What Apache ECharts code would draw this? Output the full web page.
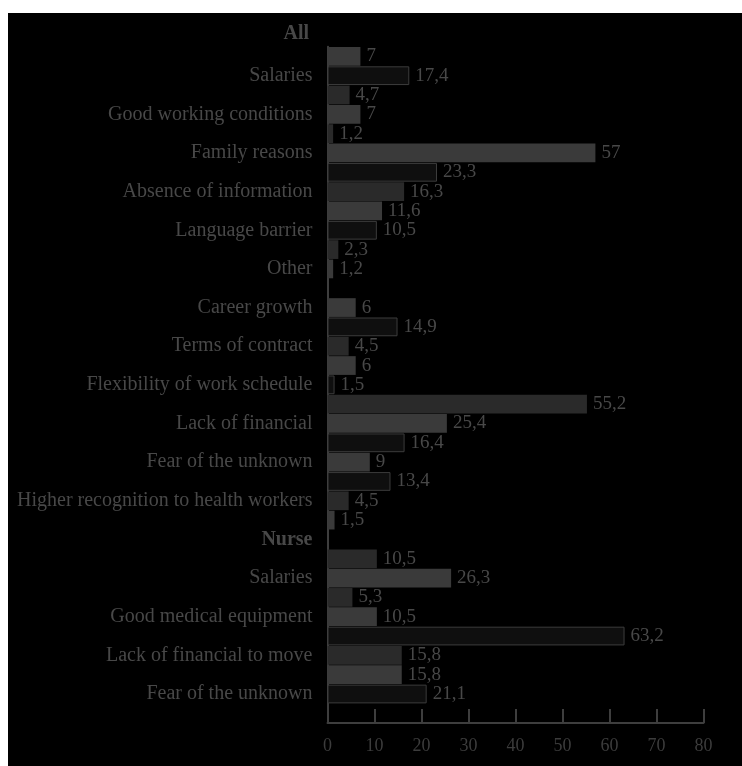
<!DOCTYPE html>
<html>
<head>
<meta charset="utf-8">
<script src="https://cdn.jsdelivr.net/npm/echarts@6/dist/echarts.min.js"></script>
<style>
  html, body { margin: 0; padding: 0; background: #ffffff; width: 742px; height: 766px; overflow: hidden; }
  #chart { position: absolute; left: 8px; top: 13px; width: 734px; height: 753px; background: #000; }
</style>
</head>
<body>
<div id="chart"></div>
<script>
// Row labels (one row per bar; empty string = unlabeled row)
const categories = ['', 'Salaries', '', 'Good working conditions', '', 'Family reasons', '', 'Absence of information', '', 'Language barrier', '', 'Other', '', 'Career growth', '', 'Terms of contract', '', 'Flexibility of work schedule', '', 'Lack of financial', '', 'Fear of the unknown', '', 'Higher recognition to health workers', '', 'Nurse', '', 'Salaries', '', 'Good medical equipment', '', 'Lack of financial to move', '', 'Fear of the unknown', ''];
const headerLabels = ['Nurse'];
const topHeader = 'All';

// Values by row (null = no bar in that series)
const lightValues = [7, null, null, 7, null, 57, null, null, 11.6, null, null, 1.2, null, 6, null, null, 6, null, null, 25.4, null, 9, null, null, 1.5, null, null, 26.3, null, 10.5, null, null, 15.8, null, null];
const blackValues = [null, 17.4, null, null, null, null, 23.3, null, null, 10.5, null, null, null, null, 14.9, null, null, 1.5, null, null, 16.4, null, 13.4, null, null, null, null, null, null, null, 63.2, null, null, 21.1, null];
const midValues = [null, null, 4.7, null, 1.2, null, null, 16.3, null, null, 2.3, null, null, null, null, 4.5, null, null, 55.2, null, null, null, null, 4.5, null, null, 10.5, null, 5.3, null, null, 15.8, null, null, null];

const xTicks = { min: 0, max: 80, interval: 10 };

const FONT = "'Liberation Serif', 'Times New Roman', serif";
const TEXT = '#484848';

const labelCfg = {
  show: true,
  position: 'right',
  distance: 6,
  color: TEXT,
  fontFamily: FONT,
  fontSize: 19,
  formatter: p => (p.value == null ? '' : String(p.value).replace('.', ','))
};

function makeSeries(name, data, style) {
  return {
    name, type: 'bar', data,
    barGap: '-100%', barCategoryGap: '3%',
    itemStyle: style,
    label: labelCfg,
    silent: true
  };
}

const chart = echarts.init(document.getElementById('chart'), null, { renderer: 'canvas' });
chart.setOption({
  backgroundColor: '#000000',
  animation: false,
  title: {
    text: topHeader,
    right: 433, top: 11, padding: 0,
    textStyle: { fontFamily: FONT, fontSize: 20, fontWeight: 'bold', color: TEXT }
  },
  grid: { left: 319.5, right: 38.5, top: 33.7, bottom: 43, containLabel: false },
  xAxis: {
    type: 'value', min: xTicks.min, max: xTicks.max, interval: xTicks.interval,
    axisLine: { show: true, lineStyle: { color: '#3e3e3e', width: 2 } },
    axisTick: { show: true, inside: true, length: 14, lineStyle: { color: '#3e3e3e', width: 2 } },
    splitLine: { show: false },
    axisLabel: { color: '#3c3c3c', fontFamily: FONT, fontSize: 18, margin: 14 }
  },
  yAxis: {
    type: 'category', inverse: true, data: categories,
    axisLine: { show: true, lineStyle: { color: '#3e3e3e', width: 2 } },
    axisTick: { show: false },
    axisLabel: {
      interval: 0, margin: 15, color: TEXT, fontFamily: FONT, fontSize: 20,
      formatter: v => headerLabels.includes(v) ? '{b|' + v + '}' : v,
      rich: { b: { fontWeight: 'bold', color: TEXT, fontFamily: FONT, fontSize: 20 } }
    }
  },
  series: [
    makeSeries('A', lightValues, { color: '#3a3a3a' }),
    makeSeries('B', blackValues, { color: '#0f0f0f', borderColor: '#3c3c3c', borderWidth: 1 }),
    makeSeries('C', midValues, { color: '#2a2a2a' })
  ]
});
</script>
</body>
</html>
